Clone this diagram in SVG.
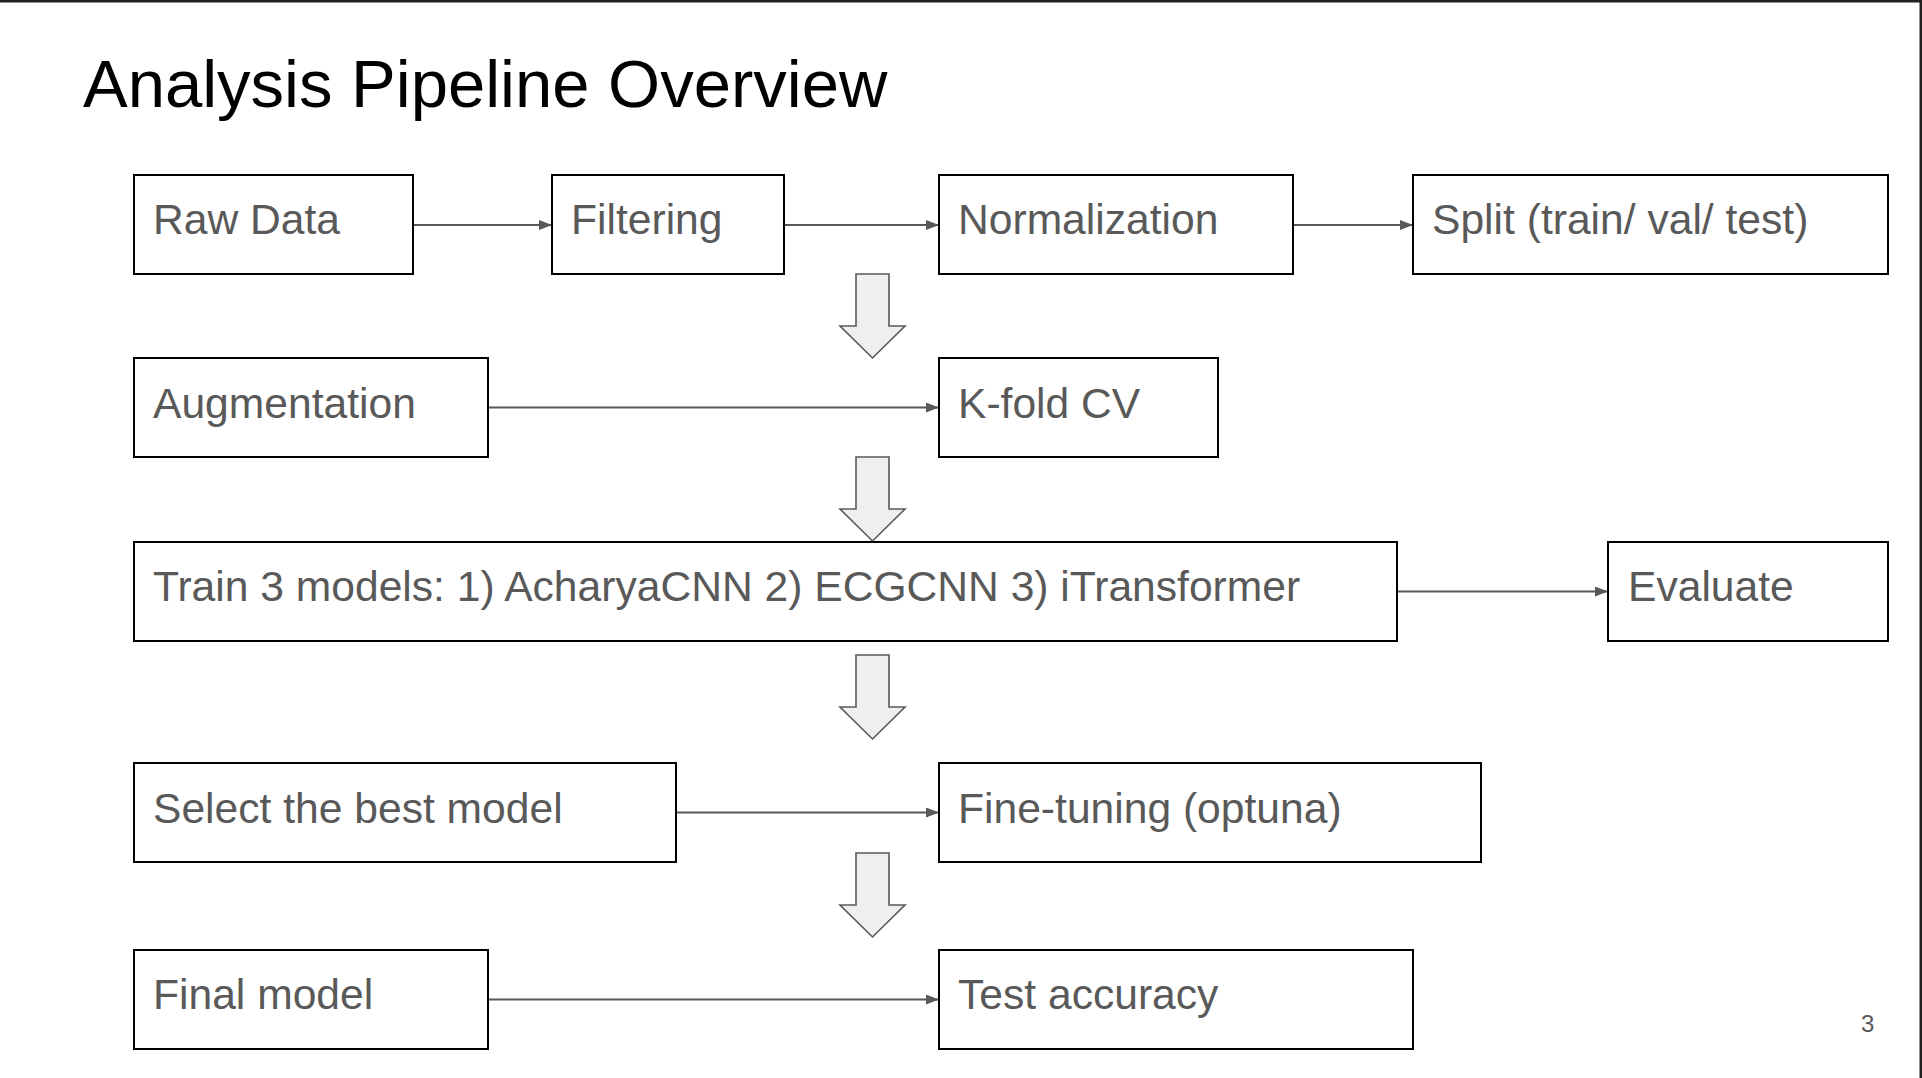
<svg xmlns="http://www.w3.org/2000/svg" width="1922" height="1078" viewBox="0 0 1922 1078">
<defs>
<style>
.box{fill:#fff;stroke:#000;stroke-width:2}
.lbl{font-family:"Liberation Sans",Arial,sans-serif;font-size:42.6px;fill:#595959}
.title{font-family:"Liberation Sans",Arial,sans-serif;font-size:67px;fill:#000}
.conn{stroke:#595959;stroke-width:2;fill:none}
.block{fill:#efefef;stroke:#595959;stroke-width:1.6;stroke-linejoin:miter}
</style>
<marker id="ah" viewBox="0 0 13 10" refX="13" refY="5" markerWidth="13" markerHeight="10" markerUnits="userSpaceOnUse" orient="auto">
<path d="M0,0 L13,5 L0,10 Z" fill="#595959"/>
</marker>
<path id="down" d="M-16.5,0 H16.5 V52 H32.5 L0,84 L-32.5,52 H-16.5 Z"/>
</defs>
<rect x="0" y="0" width="1922" height="1078" fill="#fff"/>
<rect x="0" y="0" width="1922" height="2.5" fill="#222"/>
<rect x="1919.5" y="0" width="2.5" height="1078" fill="#222"/>
<text class="title" x="83" y="107">Analysis Pipeline Overview</text>

<g id="connectors">
<line class="conn" x1="413" y1="225" x2="552" y2="225" marker-end="url(#ah)"/>
<line class="conn" x1="784" y1="225" x2="939" y2="225" marker-end="url(#ah)"/>
<line class="conn" x1="1293" y1="225" x2="1413" y2="225" marker-end="url(#ah)"/>
<line class="conn" x1="488" y1="407.5" x2="939" y2="407.5" marker-end="url(#ah)"/>
<line class="conn" x1="1397" y1="591.5" x2="1608" y2="591.5" marker-end="url(#ah)"/>
<line class="conn" x1="676" y1="812.5" x2="939" y2="812.5" marker-end="url(#ah)"/>
<line class="conn" x1="488" y1="999.5" x2="939" y2="999.5" marker-end="url(#ah)"/>
<use href="#down" class="block" x="872.5" y="274"/>
<use href="#down" class="block" x="872.5" y="457"/>
<use href="#down" class="block" x="872.5" y="655"/>
<use href="#down" class="block" x="872.5" y="853"/>
</g>

<g id="raw-data"><rect class="box" x="134" y="175" width="279" height="99"/><text class="lbl" x="153" y="234">Raw Data</text></g>
<g id="filtering"><rect class="box" x="552" y="175" width="232" height="99"/><text class="lbl" x="571" y="234">Filtering</text></g>
<g id="normalization"><rect class="box" x="939" y="175" width="354" height="99"/><text class="lbl" x="958" y="234">Normalization</text></g>
<g id="split"><rect class="box" x="1413" y="175" width="475" height="99"/><text class="lbl" x="1432" y="234">Split (train/ val/ test)</text></g>

<g id="augmentation"><rect class="box" x="134" y="358" width="354" height="99"/><text class="lbl" x="153" y="418">Augmentation</text></g>
<g id="kfold"><rect class="box" x="939" y="358" width="279" height="99"/><text class="lbl" x="958" y="418">K-fold CV</text></g>

<g id="train"><rect class="box" x="134" y="542" width="1263" height="99"/><text class="lbl" x="153" y="601">Train 3 models: 1) AcharyaCNN 2) ECGCNN 3) iTransformer</text></g>
<g id="evaluate"><rect class="box" x="1608" y="542" width="280" height="99"/><text class="lbl" x="1628" y="601">Evaluate</text></g>

<g id="select"><rect class="box" x="134" y="763" width="542" height="99"/><text class="lbl" x="153" y="823">Select the best model</text></g>
<g id="finetune"><rect class="box" x="939" y="763" width="542" height="99"/><text class="lbl" x="958" y="823">Fine-tuning (optuna)</text></g>

<g id="final"><rect class="box" x="134" y="950" width="354" height="99"/><text class="lbl" x="153" y="1009">Final model</text></g>
<g id="test"><rect class="box" x="939" y="950" width="474" height="99"/><text class="lbl" x="958" y="1009">Test accuracy</text></g>

<text x="1861" y="1032" style="font-family:'Liberation Sans',Arial,sans-serif;font-size:24px;fill:#595959">3</text>
</svg>
